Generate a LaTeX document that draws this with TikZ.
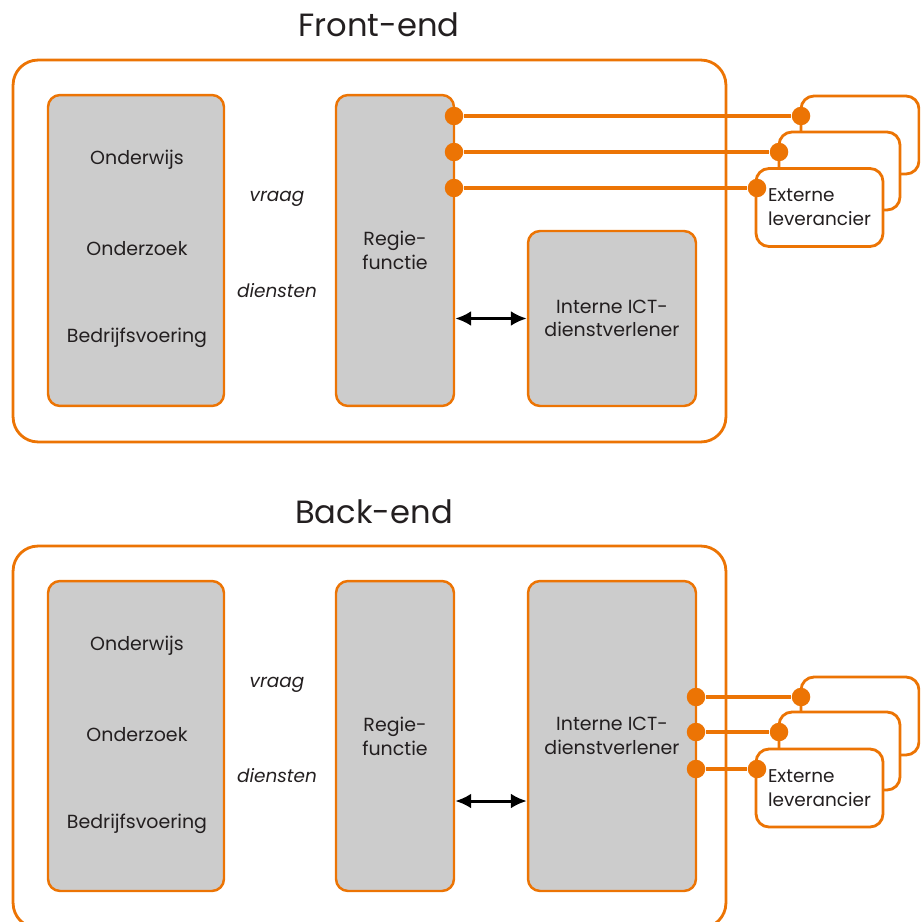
\documentclass[tikz,border=0pt]{standalone}
\usepackage{fontspec}
\setmainfont{Poppins}
\usepackage{tikz}
\usetikzlibrary{arrows.meta,positioning}
\definecolor{orange}{HTML}{EC7404}
\definecolor{grey}{HTML}{CCCCCC}
\definecolor{ink}{HTML}{231F20}

\begin{document}
\begin{tikzpicture}[x=0.02cm,y=-0.02cm,>={Latex[length=0.32cm,width=0.3cm]}]
\tikzset{
  frame/.style={draw=orange,line width=1.6pt,rounded corners=0.5cm,minimum width=14.26cm,minimum height=7.64cm},
  box/.style={draw=orange,line width=1.4pt,fill=grey,rounded corners=0.24cm,text=ink,align=center,font=\fontsize{10.8}{13.5}\selectfont},
  ext/.style={draw=orange,line width=1.6pt,fill=white,rounded corners=0.26cm,minimum height=1.56cm,text=ink,align=left,font=\fontsize{10.5}{13.5}\selectfont},
  dot/.style={circle,fill=orange,inner sep=0pt,minimum size=0.37cm},
  link/.style={draw=orange,line width=2.4pt},
  lbl/.style={text=ink,font=\fontsize{10.8}{13.5}\selectfont},
  flow/.style={text=ink,font=\fontsize{10.5}{13.5}\itshape},
  title/.style={text=ink,font=\fontsize{18.3}{22}\selectfont}
}
\clip (0,0) rectangle (920,922);

% front-end
\node[title] (ftitle) at (379,25) {Front-end};
\node[frame] (fframe) at (369.5,251) {};
\node[box,minimum width=3.52cm,minimum height=6.22cm] (fdomain) at (136,250.5) {};
\node[lbl] (fonderwijs) at (137,160) {Onderwijs};
\node[lbl] (fonderzoek) at (137,249) {Onderzoek};
\node[lbl] (fbedrijf) at (137,338) {Bedrijfsvoering};
\node[flow] (fvraag) at (277,199) {vraag};
\node[flow] (fdiensten) at (277,291) {diensten};
\node[box,minimum width=2.36cm,minimum height=6.22cm] (fregie) at (395,250.5) {Regie-\\functie};
\node[box,minimum width=3.36cm,minimum height=3.5cm] (finterne) at (612,318.5) {Interne ICT-\\dienstverlener};
\draw[<->,line width=1.7pt] (fregie.east |- finterne.west) -- (finterne.west);
\node[ext,minimum width=2.36cm] (fext3) at (860,135) {};
\node[ext,minimum width=2.42cm] (fext2) at (839.5,171) {};
\node[ext,minimum width=2.54cm] (fext1) at (819.5,207.5) {Externe\\leverancier};
\foreach \y/\x [count=\i] in {116/801,152/779,188/757}{
  \node[dot] (fr\i) at (454,\y) {};
  \node[dot] (fe\i) at (\x,\y) {};
  \draw[link] (fr\i) -- (fe\i);
}

% back-end
\node[title] (btitle) at (374,512) {Back-end};
\node[frame] (bframe) at (369.5,737) {};
\node[box,minimum width=3.52cm,minimum height=6.2cm] (bdomain) at (136,736) {};
\node[lbl] (bonderwijs) at (137,646) {Onderwijs};
\node[lbl] (bonderzoek) at (137,735) {Onderzoek};
\node[lbl] (bbedrijf) at (137,824) {Bedrijfsvoering};
\node[flow] (bvraag) at (277,685) {vraag};
\node[flow] (bdiensten) at (277,776) {diensten};
\node[box,minimum width=2.36cm,minimum height=6.2cm] (bregie) at (395,736) {Regie-\\functie};
\node[box,minimum width=3.36cm,minimum height=6.2cm] (binterne) at (612,736) {Interne ICT-\\dienstverlener};
\draw[<->,line width=1.7pt] (bregie.east |- 0,801) -- (binterne.west |- 0,801);
\node[ext,minimum width=2.36cm] (bext3) at (860,716) {};
\node[ext,minimum width=2.42cm] (bext2) at (839.5,751) {};
\node[ext,minimum width=2.54cm] (bext1) at (819.5,788) {Externe\\leverancier};
\foreach \y/\x [count=\i] in {697/801,732/779,769/757}{
  \node[dot] (br\i) at (696,\y) {};
  \node[dot] (be\i) at (\x,\y) {};
  \draw[link] (br\i) -- (be\i);
}
\end{tikzpicture}
\end{document}
